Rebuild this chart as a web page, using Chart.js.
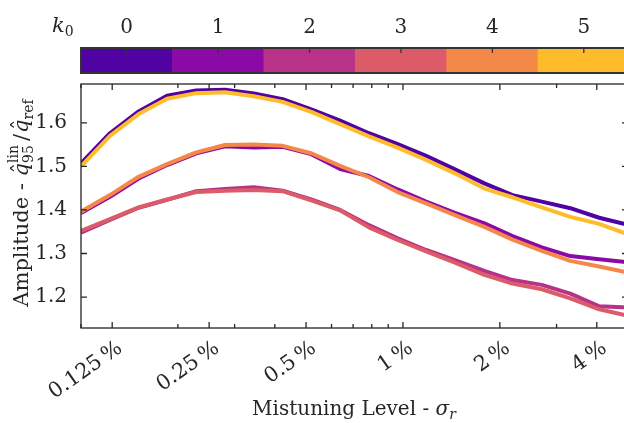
<!DOCTYPE html>
<html>
<head>
<meta charset="utf-8">
<script src="https://cdn.jsdelivr.net/npm/chart.js@4.4.0/dist/chart.umd.min.js"></script>
<style>
  html, body { margin: 0; padding: 0; background: #fff; overflow: hidden; width: 624px; height: 423px; }
  canvas { position: absolute; left: 0; top: 0; }
</style>
</head>
<body>
<canvas id="main" width="640" height="423"></canvas>
<canvas id="cbar" width="640" height="80"></canvas>
<script>
// mistuning level sigma_r in percent (log spaced samples)
const mistuning = [0.1, 0.123, 0.151, 0.185, 0.228, 0.280, 0.344, 0.423, 0.519, 0.638,
                   0.784, 0.963, 1.18, 1.45, 1.79, 2.19, 2.70, 3.31, 4.07, 5.0];

// amplitude q95_lin / q_ref, one array per k0
const ampK0 = [1.507, 1.576, 1.626, 1.662, 1.674, 1.676, 1.667, 1.654, 1.631, 1.605,
               1.576, 1.551, 1.524, 1.493, 1.461, 1.434, 1.419, 1.404, 1.382, 1.366];
const ampK1 = [1.393, 1.430, 1.472, 1.503, 1.530, 1.546, 1.543, 1.545, 1.528, 1.494,
               1.478, 1.447, 1.419, 1.393, 1.369, 1.340, 1.314, 1.294, 1.287, 1.280];
const ampK2 = [1.348, 1.377, 1.405, 1.423, 1.443, 1.448, 1.452, 1.444, 1.424, 1.400,
               1.365, 1.335, 1.308, 1.285, 1.260, 1.239, 1.228, 1.208, 1.179, 1.176];
const ampK3 = [1.352, 1.379, 1.406, 1.424, 1.441, 1.444, 1.446, 1.443, 1.422, 1.399,
               1.360, 1.331, 1.305, 1.279, 1.251, 1.231, 1.218, 1.197, 1.172, 1.157];
const ampK4 = [1.396, 1.434, 1.476, 1.505, 1.532, 1.549, 1.550, 1.547, 1.530, 1.501,
               1.475, 1.441, 1.415, 1.388, 1.361, 1.332, 1.306, 1.283, 1.270, 1.256];
const ampK5 = [1.500, 1.570, 1.620, 1.655, 1.668, 1.670, 1.661, 1.648, 1.625, 1.597,
               1.569, 1.543, 1.515, 1.484, 1.449, 1.429, 1.406, 1.384, 1.368, 1.344];

const k0Labels = ['0', '1', '2', '3', '4', '5'];
const k0Colors = ['#5002a2', '#8b0aa5', '#b83289', '#db5c68', '#f48849', '#febc2a'];
const cbarCells = [1, 1, 1, 1, 1, 1];

const xMajorTicks = [0.125, 0.25, 0.5, 1, 2, 4];
const xMajorLabels = ['0.125\u2009%', '0.25\u2009%', '0.5\u2009%', '1\u2009%', '2\u2009%', '4\u2009%'];
const xMinorTicks = [0.1, 0.2, 0.3, 0.4, 0.5, 0.6, 0.7, 0.8, 0.9, 1, 2, 3, 4, 5];
const yTicks = [1.2, 1.3, 1.4, 1.5, 1.6];

const SERIF = "'DejaVu Serif', 'Liberation Serif', serif";
const INK = '#262626';

const amps = [ampK0, ampK1, ampK2, ampK3, ampK4, ampK5];

// inner ticks + box, matlab style
const framePlugin = {
  id: 'frame',
  afterDatasetsDraw(chart) {
    const {ctx, chartArea: a, scales} = chart;
    ctx.save();
    ctx.strokeStyle = INK;
    ctx.lineWidth = 1.3;
    ctx.strokeRect(a.left, a.top, a.right - a.left, a.bottom - a.top);
    ctx.beginPath();
    xMinorTicks.concat(xMajorTicks).forEach(v => {
      const px = scales.x.getPixelForValue(v);
      const len = xMajorTicks.includes(v) ? 6 : 4;
      ctx.moveTo(px, a.bottom); ctx.lineTo(px, a.bottom - len);
      ctx.moveTo(px, a.top); ctx.lineTo(px, a.top + len);
    });
    yTicks.forEach(v => {
      const py = scales.y.getPixelForValue(v);
      ctx.moveTo(a.left, py); ctx.lineTo(a.left + 6, py);
      ctx.moveTo(a.right, py); ctx.lineTo(a.right - 6, py);
    });
    ctx.stroke();
    ctx.restore();
  }
};

// draw a run of text pieces (size, baseline shift, italic, hat, stacked script)
function runText(ctx, parts, x, y, measureOnly) {
  let cx = x;
  parts.forEach(p => {
    ctx.font = (p.italic ? 'italic ' : '') + p.size + 'px ' + SERIF;
    const w = ctx.measureText(p.text).width;
    if (!measureOnly) {
      ctx.fillText(p.text, cx, y + (p.dy || 0));
      if (p.hat) {
        ctx.font = p.size + 'px ' + SERIF;
        ctx.textAlign = 'center';
        ctx.fillText('\u02C6', cx + w / 2 + 1.5, y - 1);
        ctx.textAlign = 'left';
      }
      if (p.stack) {
        ctx.font = p.stack.size + 'px ' + SERIF;
        ctx.fillText(p.stack.text, cx, y + p.stack.dy);
      }
    }
    let sw = 0;
    if (p.stack) {
      ctx.font = p.stack.size + 'px ' + SERIF;
      sw = ctx.measureText(p.stack.text).width;
    }
    cx += Math.max(w, sw) + (p.gap || 0);
  });
  return cx - x;
}

const titlePlugin = {
  id: 'titles',
  afterDraw(chart) {
    const ctx = chart.ctx;
    ctx.save();
    ctx.fillStyle = INK;
    ctx.textBaseline = 'alphabetic';
    ctx.textAlign = 'left';

    const yParts = [
      {text: 'Amplitude - ', size: 21},
      {text: 'q', size: 21, italic: true, hat: true},
      {text: '95', size: 14, dy: 5, stack: {text: 'lin', size: 14, dy: -10}, gap: 4},
      {text: '/', size: 21, gap: 1},
      {text: 'q', size: 21, italic: true, hat: true},
      {text: 'ref', size: 14, dy: 5}
    ];
    const wy = runText(ctx, yParts, 0, 0, true);
    ctx.translate(28, 203);
    ctx.rotate(-Math.PI / 2);
    runText(ctx, yParts, -wy / 2, 0, false);
    ctx.setTransform(1, 0, 0, 1, 0, 0);

    const xParts = [
      {text: 'Mistuning Level - ', size: 20},
      {text: '\u03C3', size: 20, italic: true},
      {text: 'r', size: 14, italic: true, dy: 4}
    ];
    const wx = runText(ctx, xParts, 0, 0, true);
    runText(ctx, xParts, 354 - wx / 2, 415, false);
    ctx.restore();
  }
};

new Chart(document.getElementById('main'), {
  type: 'line',
  data: {
    datasets: k0Labels.map((k, i) => ({
      label: 'k0 = ' + k,
      data: mistuning.map((x, j) => ({x: x, y: amps[i][j]})),
      borderColor: k0Colors[i],
      backgroundColor: k0Colors[i],
      borderWidth: 4,
      pointRadius: 0,
      tension: 0,
      order: 5 - i,
      borderJoinStyle: 'round'
    }))
  },
  options: {
    responsive: false,
    animation: false,
    events: [],
    layout: { padding: { top: 84, right: 12, left: 0, bottom: 0 } },
    plugins: { legend: { display: false }, tooltip: { enabled: false } },
    scales: {
      x: {
        type: 'logarithmic',
        min: 0.1,
        max: 5,
        afterBuildTicks(scale) {
          scale.ticks = xMajorTicks.map(v => ({value: v}));
        },
        afterFit(scale) { scale.height = 95; },
        grid: { display: false, drawTicks: false },
        border: { display: false },
        ticks: {
          autoSkip: false,
          minRotation: 35,
          maxRotation: 35,
          padding: 8,
          labelOffset: 8,
          color: INK,
          font: { family: SERIF, size: 21 },
          callback(value) {
            const i = xMajorTicks.findIndex(t => Math.abs(t - value) < 1e-6);
            return i >= 0 ? xMajorLabels[i] : '';
          }
        }
      },
      y: {
        min: 1.129,
        max: 1.689,
        afterBuildTicks(scale) {
          scale.ticks = yTicks.map(v => ({value: v}));
        },
        afterFit(scale) { scale.width = 81; },
        grid: { display: false, drawTicks: false },
        border: { display: false },
        ticks: {
          padding: 14,
          color: INK,
          font: { family: SERIF, size: 20 },
          callback: v => v.toFixed(1)
        }
      }
    }
  },
  plugins: [framePlugin, titlePlugin]
});

// colour bar for k0
const cbarPlugin = {
  id: 'cbarDecor',
  afterDatasetsDraw(chart) {
    const {ctx, chartArea: a, scales} = chart;
    ctx.save();
    ctx.strokeStyle = '#333';
    ctx.lineWidth = 2;
    ctx.strokeRect(a.left, a.top, a.right - a.left, a.bottom - a.top);
    ctx.beginPath();
    k0Labels.forEach((k, i) => {
      const px = scales.x.getPixelForTick(i);
      ctx.moveTo(px, a.top); ctx.lineTo(px, a.top + 5);
    });
    ctx.lineWidth = 1.3;
    ctx.stroke();
    ctx.fillStyle = INK;
    ctx.textBaseline = 'alphabetic';
    ctx.font = 'italic 21px ' + SERIF;
    ctx.fillText('k', 52, 32);
    const w = ctx.measureText('k').width;
    ctx.font = '14px ' + SERIF;
    ctx.fillText('0', 52 + w, 36);
    ctx.restore();
  }
};

new Chart(document.getElementById('cbar'), {
  type: 'bar',
  data: {
    labels: k0Labels,
    datasets: [{
      data: cbarCells,
      backgroundColor: k0Colors,
      borderWidth: 0,
      barPercentage: 1,
      categoryPercentage: 1
    }]
  },
  options: {
    responsive: false,
    animation: false,
    events: [],
    layout: { padding: { left: 81, right: 10.5, top: 0, bottom: 7 } },
    plugins: { legend: { display: false }, tooltip: { enabled: false } },
    scales: {
      x: {
        position: 'top',
        afterFit(scale) { scale.height = 48; },
        grid: { display: false, drawTicks: false },
        border: { display: false },
        ticks: {
          padding: 8,
          color: INK,
          font: { family: SERIF, size: 20 }
        }
      },
      y: { display: false, min: 0, max: 1 }
    }
  },
  plugins: [cbarPlugin]
});
</script>
</body>
</html>
